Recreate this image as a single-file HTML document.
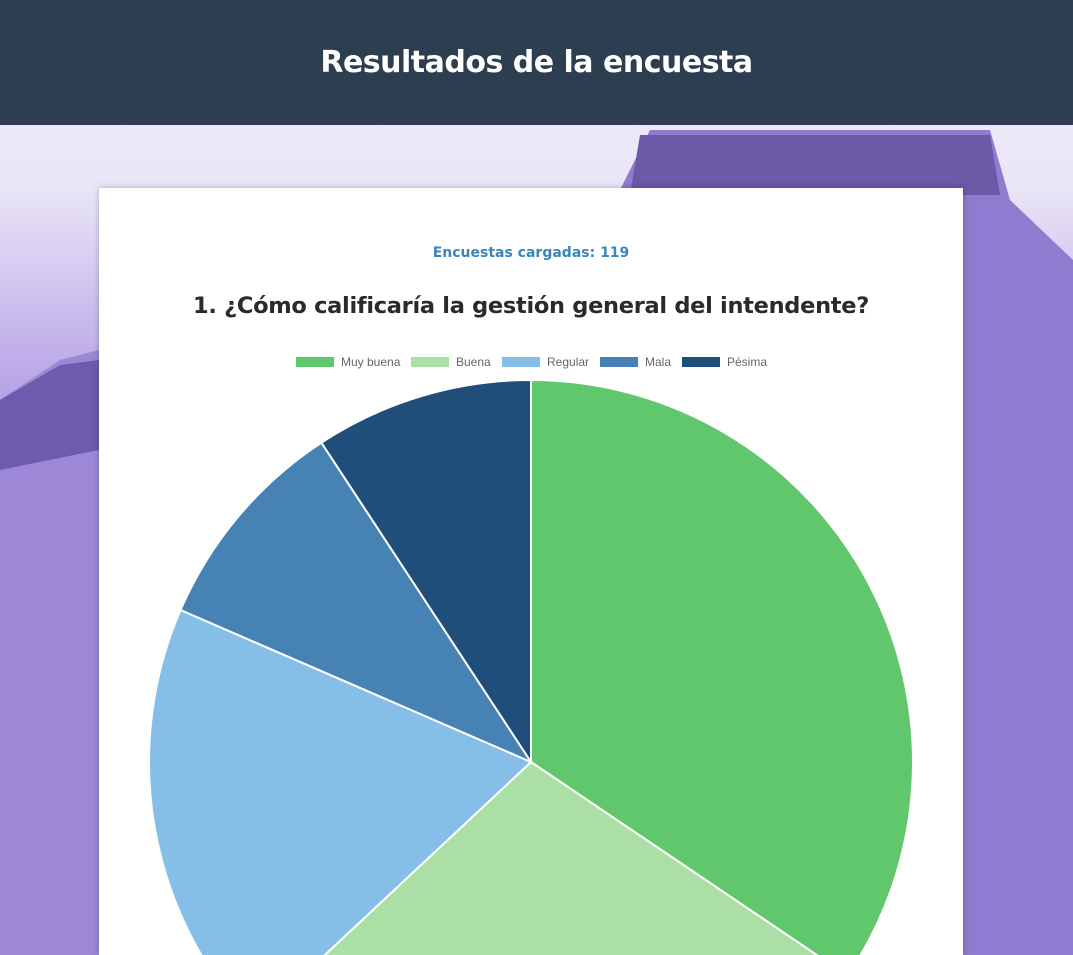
<!DOCTYPE html>
<html><head><meta charset="utf-8"><style>
html,body{margin:0;padding:0;width:1073px;height:955px;overflow:hidden;font-family:"Liberation Sans",sans-serif}
#bg{position:absolute;left:0;top:0;width:1073px;height:955px;background:linear-gradient(180deg,#f4f2fb 0%,#e9e4f7 20%,#b9a6e6 40%,#9a84d6 60%,#7c64c0 100%)}
header{position:absolute;left:0;top:0;width:1073px;height:125px;background:#2d3e50;color:#fff;text-align:center;font-weight:bold;font-size:30px;line-height:125px;font-family:"DejaVu Sans","Liberation Sans",sans-serif;letter-spacing:-0.5px}
#card{position:absolute;left:99px;top:188px;width:864px;height:767px;background:#fff;box-shadow:0 0 6px rgba(0,0,0,.25)}
.count{position:absolute;left:0;width:864px;top:57px;text-align:center;color:#3a85b9;font-weight:bold;font-size:14px;font-family:"DejaVu Sans",sans-serif}
.q{position:absolute;left:0;width:864px;top:105px;text-align:center;color:#2a2a2a;font-weight:bold;font-size:22.5px;font-family:"DejaVu Sans",sans-serif;letter-spacing:-0.3px}
</style></head><body>
<div id="bg">
<svg width="1073" height="955" style="position:absolute;left:0;top:0">
<path d="M620 190 L650 130 L990 130 L1010 200 L1073 260 L1073 955 L960 955 L960 190 Z" fill="#8f7bd0"/>
<path d="M640 135 L990 135 L1000 195 L630 195 Z" fill="#6a5aa8"/>
<path d="M0 400 L60 360 L99 350 L99 955 L0 955 Z" fill="#9c88d6"/>
<path d="M0 400 L60 365 L99 360 L99 450 L0 470 Z" fill="#6d5cae"/>
</svg></div>
<header>Resultados de la encuesta</header>
<div id="card">
<div class="count">Encuestas cargadas: 119</div>
<div class="q">1. ¿Cómo calificaría la gestión general del intendente?</div>
</div>
<svg id="chart" width="1073" height="955" style="position:absolute;left:0;top:0"></svg>
<script>
const categories=["Muy buena","Buena","Regular","Mala","Pésima"];
const values=[41,34,22,11,11];
const colors=["#61c76c","#aadfa6","#85bfe7","#4682b4","#1f4e7a"];
const NS="http://www.w3.org/2000/svg";
const svg=document.getElementById('chart');
const cx=531,cy=762,r=382;
const total=values.reduce((a,b)=>a+b,0);
function pt(a){return [cx+r*Math.sin(a),cy-r*Math.cos(a)];}
let a0=0;
values.forEach((v,i)=>{
  const a1=a0+v/total*2*Math.PI;
  const p0=pt(a0),p1=pt(a1);
  const large=(a1-a0)>Math.PI?1:0;
  const p=document.createElementNS(NS,'path');
  p.setAttribute('d',`M${cx},${cy} L${p0[0]},${p0[1]} A${r},${r} 0 ${large} 1 ${p1[0]},${p1[1]} Z`);
  p.setAttribute('fill',colors[i]);p.setAttribute('stroke','#fff');p.setAttribute('stroke-width','2');
  
  
  svg.appendChild(p);
  a0=a1;
});
const boxX=[296,411,502,600,682];
categories.forEach((c,i)=>{
  const g=document.createElementNS(NS,'g');
  
  
  const rc=document.createElementNS(NS,'rect');
  rc.setAttribute('x',boxX[i]);rc.setAttribute('y',357);rc.setAttribute('width',38);rc.setAttribute('height',10);rc.setAttribute('fill',colors[i]);
  const t=document.createElementNS(NS,'text');
  t.setAttribute('x',boxX[i]+45);t.setAttribute('y',366);t.setAttribute('font-size','12');t.setAttribute('fill','#666');
  t.setAttribute('font-family','Liberation Sans, sans-serif');
  t.textContent=c;
  g.appendChild(rc);g.appendChild(t);svg.appendChild(g);
});
</script>
</body></html>
